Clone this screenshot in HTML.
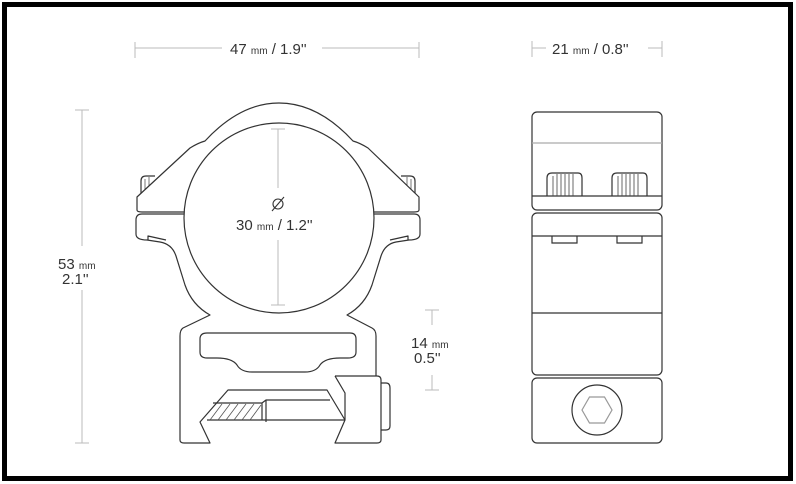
<!DOCTYPE html>
<html><head><meta charset="utf-8"><style>
html,body{margin:0;padding:0;background:#fff;}
svg{display:block;}
text{font-family:"Liberation Sans",sans-serif;fill:#333;}
</style></head><body>
<svg width="796" height="484" viewBox="0 0 796 484">
<rect x="0" y="0" width="796" height="484" fill="#fff"/>
<rect x="4.5" y="4.5" width="786" height="474" fill="none" stroke="#000" stroke-width="5"/>

<!-- left drawing -->
<g stroke="#333" stroke-width="1.2" fill="none" stroke-linejoin="round">
<!-- knobs -->
<path d="M155,176 L146,176 Q141,176 141,181 L141,197"/>
<path d="M401,176 L410,176 Q415,176 415,181 L415,197"/>
<g stroke="#555" stroke-width="0.8">
<line x1="145" y1="191" x2="145" y2="179"/><line x1="149" y1="188" x2="149" y2="177"/>
<line x1="411" y1="191" x2="411" y2="179"/><line x1="407" y1="188" x2="407" y2="177"/>
</g>
<!-- top clamp -->
<path d="M137,210 L137,197 L190,148 Q198,143 205,141 Q240,103 279,103 Q318,103 353,141 Q360,143 368,148 L419,197 L419,210" fill="#fff"/>
<circle cx="279" cy="218" r="95" fill="#fff"/>
<path d="M137,210 Q137,212 142,212 L184,212 M374,212 L414,212 Q419,212 419,210"/>
<!-- lower ears -->
<path d="M184,214 L142,214 Q136,214 136,220 L136,234 Q136,240 147,240 L160,242 Q172,244 176,256 L185,285 Q192,305 210,315 L183,328 Q180,330 180,336 L180,440 Q180,443 184,443 L210,443 L200,422 L228,390 L327,390 L345,420 L345,393 L335,376"/>
<path d="M374,214 L414,214 Q420,214 420,220 L420,234 Q420,240 409,240 L396,242 Q385,244 381,256 L372,285 Q365,305 347,315 L372,328 Q376,330 376,336 L376,376"/>
<path d="M148,240 L148,236 L166,240 M408,240 L408,236 L390,240"/>
<!-- slot -->
<path d="M207,333 L350,333 Q356,333 356,339 L356,352 Q356,358 348,358 L340,358 Q325,358 320,365 Q316,372 305,372 L252,372 Q241,372 237,365 Q232,358 217,358 L207,358 Q200,358 200,352 L200,339 Q200,333 207,333 Z"/>
<!-- clamp block -->
<path d="M335,376 L377,376 Q381,376 381,380 L381,440 Q381,443 377,443 L335,443 L345,420"/>
<path d="M381,383 L386,383 Q390,383 390,388 L390,426 Q390,430 386,430 L381,430"/>
<!-- rod -->
<path d="M207,420 L345,420 M213,403 L262,403 L266,400 L330,400 M262,403 L262,420 M266,400 L266,422"/>
</g>
<g stroke="#555" stroke-width="0.8">
<line x1="210" y1="420" x2="222" y2="404"/><line x1="218" y1="420" x2="230" y2="404"/>
<line x1="226" y1="420" x2="238" y2="404"/><line x1="234" y1="420" x2="246" y2="404"/>
<line x1="242" y1="420" x2="254" y2="404"/><line x1="250" y1="420" x2="261" y2="405"/>
</g>

<!-- dimension lines -->
<g stroke="#bbb" stroke-width="1" fill="none">
<line x1="135" y1="48" x2="222" y2="48"/><line x1="322" y1="48" x2="419" y2="48"/>
<line x1="135" y1="42" x2="135" y2="58"/><line x1="419" y1="42" x2="419" y2="58"/>
<line x1="532" y1="48" x2="546" y2="48"/><line x1="648" y1="48" x2="662" y2="48"/>
<line x1="532" y1="41" x2="532" y2="57"/><line x1="662" y1="41" x2="662" y2="57"/>
<line x1="82" y1="110" x2="82" y2="246"/><line x1="82" y1="290" x2="82" y2="443"/>
<line x1="75" y1="110" x2="89" y2="110"/><line x1="75" y1="443" x2="89" y2="443"/>
<line x1="432" y1="310" x2="432" y2="325"/><line x1="432" y1="375" x2="432" y2="390"/>
<line x1="425" y1="310" x2="439" y2="310"/><line x1="425" y1="390" x2="439" y2="390"/>
<line x1="278" y1="129" x2="278" y2="188"/><line x1="278" y1="240" x2="278" y2="305"/>
<line x1="271" y1="129" x2="285" y2="129"/><line x1="271" y1="305" x2="285" y2="305"/>
</g>
<g stroke="#333" stroke-width="1.1" fill="none">
<circle cx="278" cy="204" r="5"/><line x1="272" y1="211" x2="284" y2="197"/>
</g>
<text x="230" y="54" font-size="15">47 <tspan font-size="10">mm</tspan> / 1.9''</text>
<text x="552" y="54" font-size="15">21 <tspan font-size="10">mm</tspan> / 0.8''</text>
<text x="58" y="269" font-size="15">53 <tspan font-size="10">mm</tspan></text>
<text x="62" y="284" font-size="15">2.1''</text>
<text x="411" y="348" font-size="15">14 <tspan font-size="10">mm</tspan></text>
<text x="414" y="363" font-size="15">0.5''</text>
<text x="236" y="230" font-size="15">30 <tspan font-size="10">mm</tspan> / 1.2''</text>

<!-- right drawing -->
<g stroke="#333" stroke-width="1.2" fill="none">
<rect x="532" y="112" width="130" height="98" rx="5"/>
<rect x="532" y="213" width="130" height="162" rx="5"/>
<rect x="532" y="378" width="130" height="65" rx="5"/>
<line x1="532" y1="196" x2="662" y2="196"/>
<line x1="532" y1="236" x2="662" y2="236"/>
<line x1="532" y1="313" x2="662" y2="313"/>
<path d="M547,196 L547,178 Q547,173 552,173 L578,173 Q582,173 582,178 L582,196"/>
<path d="M612,196 L612,178 Q612,173 617,173 L643,173 Q647,173 647,178 L647,196"/>
<path d="M552,236 L552,243 L577,243 L577,236 M617,236 L617,243 L642,243 L642,236"/>
<circle cx="597" cy="410" r="25"/>
</g>
<line x1="532" y1="143" x2="662" y2="143" stroke="#aaa" stroke-width="1.2"/>
<g stroke="#444" stroke-width="0.8">
<line x1="553" y1="176" x2="553" y2="196"/><line x1="557" y1="174" x2="557" y2="196"/>
<line x1="561" y1="174" x2="561" y2="196"/><line x1="565" y1="174" x2="565" y2="196"/>
<line x1="569" y1="174" x2="569" y2="196"/><line x1="573" y1="174" x2="573" y2="196"/>
<line x1="618" y1="176" x2="618" y2="196"/><line x1="622" y1="174" x2="622" y2="196"/>
<line x1="626" y1="174" x2="626" y2="196"/><line x1="630" y1="174" x2="630" y2="196"/>
<line x1="634" y1="174" x2="634" y2="196"/><line x1="638" y1="174" x2="638" y2="196"/>
</g>
<polygon points="582,410 589.5,397 604.5,397 612,410 604.5,423 589.5,423" fill="none" stroke="#999" stroke-width="1.2"/>
</svg>
</body></html>
